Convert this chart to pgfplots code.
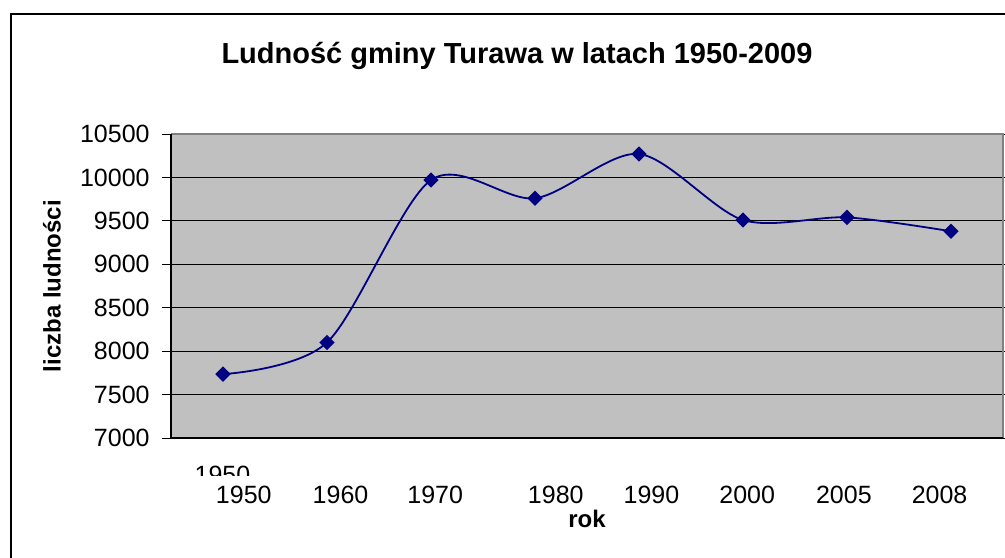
\documentclass[border=0pt]{standalone}
\usepackage{pgfplots}
\pgfplotsset{compat=1.18}
\usepackage{fontspec}
\setmainfont{Liberation Sans}
\definecolor{plotgray}{RGB}{192,192,192}
\definecolor{navyline}{RGB}{0,0,128}
\pgfplotstableread{
x year value
0 1950 7735
1 1960 8100
2 1970 9970
3 1980 9760
4 1990 10270
5 2000 9510
6 2005 9540
7 2008 9380
}\datatable
\begin{document}
\begin{tikzpicture}
\path[use as bounding box] (0,0) rectangle (502.5pt,278.5pt);
\begin{scope}
\clip (0,0) rectangle (502.5pt,278.5pt);
\draw[line width=1pt] (5.25pt,-5pt) -- (5.25pt,271.5pt) -- (520pt,271.5pt);
\end{scope}
\begin{axis}[
  at={(85.5pt,59.5pt)}, anchor=south west,
  scale only axis, width=416pt, height=152pt,
  xmin=-0.5, xmax=7.5, ymin=7000, ymax=10500,
  ytick={7000,7500,...,10500},
  scaled y ticks=false,
  yticklabel={\pgfmathprintnumber[fixed, precision=0, set thousands separator={}]{\tick}},
  xtick={0.2,1.13,2.04,3.2,4.12,5.04,5.97,6.89},
  xticklabels={1950,1960,1970,1980,1990,2000,2005,2008},
  major x tick style={draw=none},
  extra x ticks={-0.5}, extra x tick labels={},
  extra x tick style={tick align=outside, major tick length=4.5pt, major tick style={draw=black, line width=0.5pt}, grid=none},
  tick align=outside, major tick length=4.5pt,
  major y tick style={black, line width=0.5pt},
  ymajorgrids, major grid style={black, line width=0.6pt},
  axis line style={draw=none},
  axis background/.style={fill=plotgray},
  tick label style={font=\fontsize{12.5}{14}\selectfont},
  /pgf/number format/assume math mode=true,
  /pgf/number format/set thousands separator={},
  yticklabel style={anchor=east, inner sep=0pt, xshift=-6pt},
  xticklabel style={anchor=center, inner sep=0pt, yshift=-24pt},
  every axis x label/.style={at={([yshift=-40.5pt]axis description cs:0.5,0)}, anchor=center},
  every axis y label/.style={at={([xshift=-59.5pt]axis description cs:0,0.5)}, rotate=90, anchor=center},
  every axis title/.style={at={([xshift=-35pt,yshift=39pt]axis description cs:0.5,1)}, anchor=center},
  xlabel={\fontsize{12}{14}\selectfont\bfseries rok},
  ylabel={\fontsize{12}{14}\selectfont\bfseries liczba ludności},
  title={\fontsize{14.5}{17}\selectfont\bfseries Ludność gminy Turawa w latach 1950-2009},
  clip=false,
]
\addplot[navyline, line width=0.9pt, smooth, tension=0.5, mark=square*, mark size=2.26pt, mark options={rotate=45, fill=navyline, draw=navyline, solid}] table[x=x, y=value] {\datatable};
\draw[gray, line width=0.8pt] (rel axis cs:0,1) -- (rel axis cs:1,1) -- (rel axis cs:1,0);
\draw[black, line width=0.8pt] (rel axis cs:0,1) -- (rel axis cs:0,0) -- (rel axis cs:1,0);
\end{axis}
\begin{scope}
\clip (0,41pt) rectangle (300pt,50pt);
\node[anchor=base, inner sep=0pt, font=\fontsize{12.5}{14}\selectfont] at (111.25pt,37pt) {1950};
\end{scope}
\end{tikzpicture}
\end{document}
